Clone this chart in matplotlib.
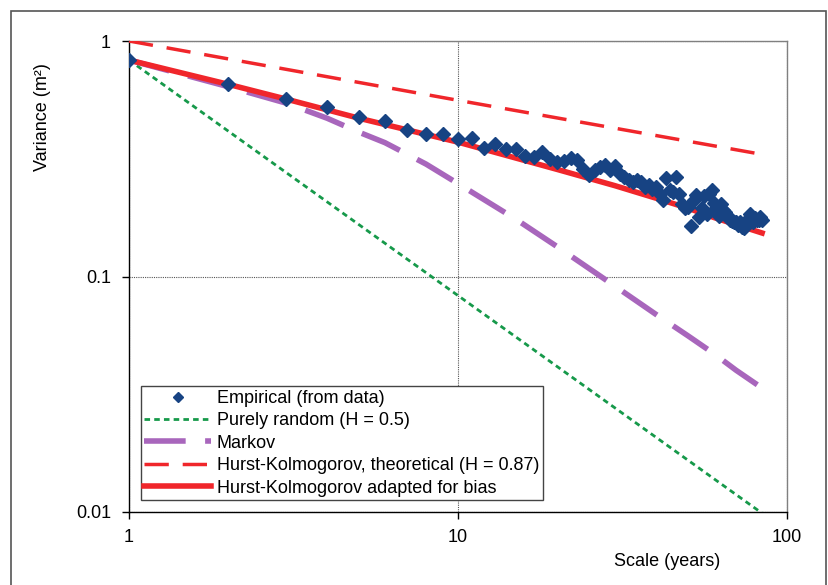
import numpy as np
import matplotlib
matplotlib.use("Agg")
import matplotlib.pyplot as plt
from matplotlib.patches import Rectangle

plt.rcParams['font.family'] = ['Liberation Sans', 'DejaVu Sans']

# ---------------- data ----------------
emp_scale = list(range(1, 85))
emp_var = [
    0.830, 0.655, 0.567, 0.523, 0.476, 0.457, 0.419, 0.404, 0.403, 0.383,   # 1-10
    0.388, 0.352, 0.366, 0.347, 0.349, 0.325, 0.323, 0.339, 0.315, 0.307,   # 11-20
    0.309, 0.318, 0.312, 0.286, 0.270, 0.283, 0.293, 0.297, 0.283, 0.294,   # 21-30
    0.272, 0.264, 0.257, 0.253, 0.257, 0.251, 0.241, 0.245, 0.235, 0.240,   # 31-40
    0.224, 0.211, 0.262, 0.233, 0.229, 0.264, 0.223, 0.204, 0.195, 0.197,   # 41-50
    0.164, 0.211, 0.222, 0.179, 0.196, 0.219, 0.184, 0.224, 0.233, 0.206,   # 51-60
    0.196, 0.181, 0.204, 0.192, 0.188, 0.181, 0.174, 0.172, 0.170, 0.170,   # 61-70
    0.165, 0.170, 0.162, 0.160, 0.166, 0.176, 0.185, 0.179, 0.170, 0.178,   # 71-80
    0.173, 0.173, 0.179, 0.174,                                             # 81-84
]

random_scale = [1, 10, 84]
random_var = [0.830, 0.083, 0.00988]

markov_scale = [1, 2, 3, 4, 5, 6, 8, 10, 15, 20, 30, 40, 50, 60, 70, 84]
markov_var = [0.830, 0.640, 0.545, 0.470, 0.410, 0.370, 0.300, 0.248, 0.175,
              0.134, 0.091, 0.069, 0.056, 0.047, 0.040, 0.0336]

hk_theo_scale = [1, 10, 84]
hk_theo_var = [1.0, 0.560, 0.330]

hk_bias_scale = [1, 2, 3, 5, 10, 20, 30, 40, 50, 60, 70, 84]
hk_bias_var = [0.830, 0.655, 0.567, 0.470, 0.372, 0.285, 0.243, 0.215,
               0.195, 0.178, 0.166, 0.153]

labels = ["Empirical (from data)",
          "Purely random (H = 0.5)",
          "Markov",
          "Hurst-Kolmogorov, theoretical (H = 0.87)",
          "Hurst-Kolmogorov adapted for bias"]

# ---------------- figure ----------------
W, H = 829, 585
fig = plt.figure(figsize=(W / 100, H / 100), dpi=100)
ax = fig.add_axes([129 / W, 1 - 512 / H, (787 - 129) / W, (512 - 41) / H])

navy = '#174383'
green = '#16994A'
purple = '#A866BC'
red = '#F0262B'

l1, = ax.plot(emp_scale, emp_var, linestyle='none', marker='D', markersize=7,
              color=navy, zorder=5)
l2, = ax.plot(random_scale, random_var, color=green, lw=2.0,
              dashes=(2.0, 1.5), zorder=3)
l3, = ax.plot(markov_scale, markov_var, color=purple, lw=4.0,
              dashes=(7.5, 3.5), zorder=3)
l4, = ax.plot(hk_theo_scale, hk_theo_var, color=red, lw=2.5,
              dashes=(7, 4), zorder=3)
l5, = ax.plot(hk_bias_scale, hk_bias_var, color=red, lw=4.0, zorder=4)

ax.set_xscale('log')
ax.set_yscale('log')
ax.set_xlim(1, 100)
ax.set_ylim(0.01, 1)
ax.set_xticks([1, 10, 100])
ax.set_xticklabels(['1', '10', '100'])
ax.set_yticks([0.01, 0.1, 1])
ax.set_yticklabels(['0.01', '0.1', '1'])
ax.minorticks_off()
ax.tick_params(axis='both', which='major', length=5, width=1, direction='out',
               labelsize=13, colors='black')
ax.tick_params(axis='x', pad=7)
ax.tick_params(axis='y', pad=8)

ax.grid(True, which='major', color='#555555', linestyle=(0, (1, 1)), lw=0.8)
for s in ['top', 'right']:
    ax.spines[s].set_color('#808080')
    ax.spines[s].set_linewidth(1.0)
for s in ['left', 'bottom']:
    ax.spines[s].set_color('black')
    ax.spines[s].set_linewidth(1.0)

fig.text(43 / W, 1 - 117 / H, 'Variance (m²)', rotation=90, ha='center',
         va='center', fontsize=13)
fig.text(667 / W, 1 - 561 / H, 'Scale (years)', ha='center', va='center',
         fontsize=13)

leg = ax.legend([l1, l2, l3, l4, l5], labels, loc='lower left',
                bbox_to_anchor=(0.018, 0.025), fontsize=13, frameon=True,
                fancybox=False, edgecolor='#444444', framealpha=1,
                handlelength=3.7, handletextpad=0.3, labelspacing=0.3,
                borderpad=0.2, borderaxespad=0, numpoints=1,
                markerscale=0.8)
leg.get_frame().set_linewidth(1.0)

# outer frame
fig.patches.append(Rectangle((11 / W, -0.05), (826 - 11) / W, 1.05 - 11 / H,
                             transform=fig.transFigure, fill=False,
                             edgecolor='#555555', lw=1.2))

fig.savefig('out.png', dpi=100)
